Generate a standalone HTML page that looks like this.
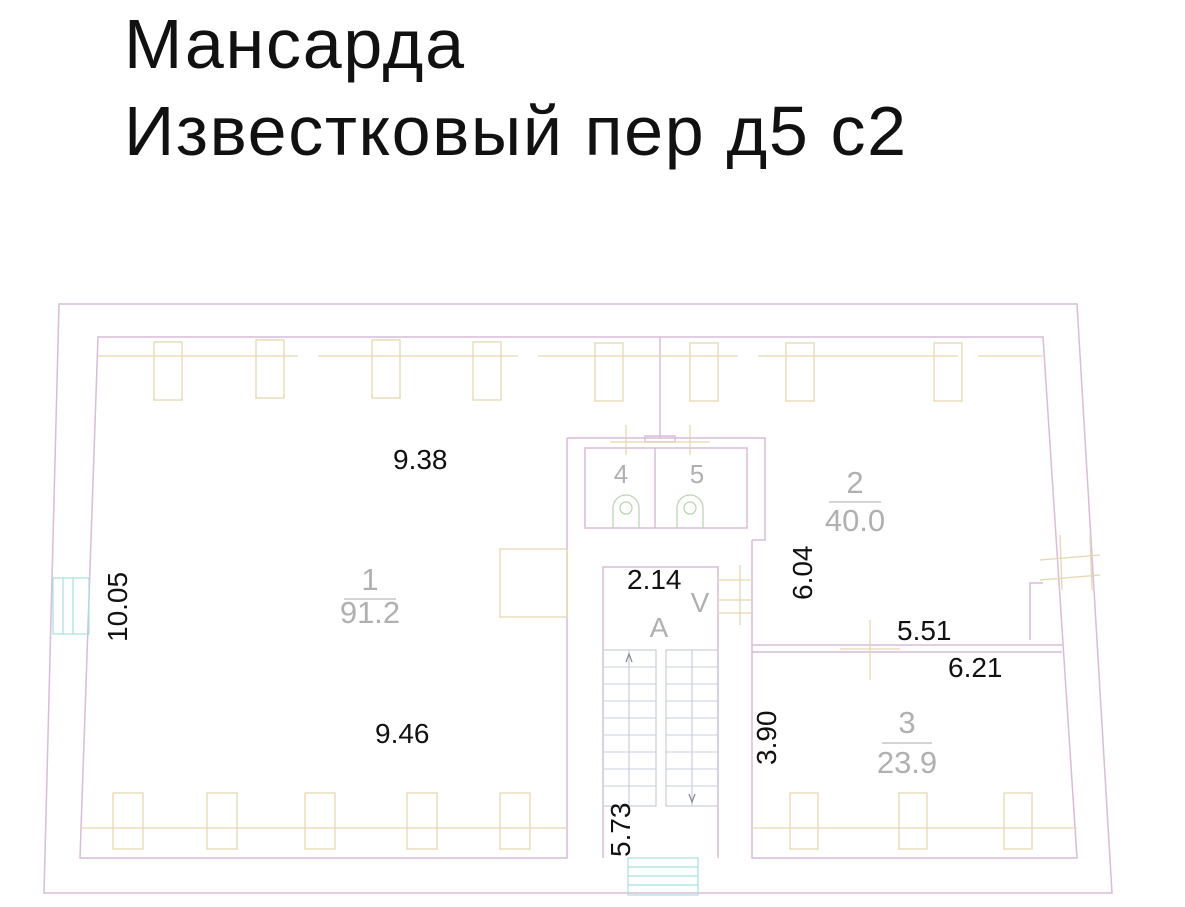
<!DOCTYPE html>
<html><head><meta charset="utf-8"><style>
html,body{margin:0;padding:0;background:#fff;}
svg{display:block}
text{font-family:"Liberation Sans",sans-serif;}
</style></head><body>
<svg width="1185" height="907" viewBox="0 0 1185 907" xmlns="http://www.w3.org/2000/svg">
<rect width="1185" height="907" fill="#fff"/>
<text x="124" y="68" font-size="70" fill="#111" textLength="340">Мансарда</text>
<text x="124" y="155" font-size="70" fill="#111" textLength="782">Известковый пер д5 с2</text>

<g fill="none" stroke="#d8bcd8" stroke-width="1.5">
<polygon points="59,304 1077,304 1112,893 44,893"/>
<polyline points="567,438 567,858 80,858 98,337 1043,337 1077,858 752,858 752,540"/>
<polyline points="567,438 765,438 765,540 752,540"/>
<rect x="585" y="448" width="162" height="80"/>
<polyline points="603,858 603,567 718,567 718,858"/>
<line x1="752" y1="645" x2="1062" y2="645"/>
<line x1="752" y1="652" x2="1062" y2="652"/>
<polyline points="1030,640 1030,583 1043,583"/>
<line x1="655" y1="448" x2="655" y2="528"/>
<line x1="660" y1="337" x2="660" y2="438"/>
<rect x="645" y="436" width="30" height="6"/>
</g>

<g fill="none" stroke="#e6d6b0" stroke-width="1.3">
<line x1="98" y1="356" x2="1043" y2="356" stroke-dasharray="200 20"/>
<rect x="154" y="342" width="28" height="58"/>
<rect x="256" y="340" width="28" height="58"/>
<rect x="372" y="340" width="28" height="58"/>
<rect x="473" y="342" width="28" height="58"/>
<rect x="595" y="343" width="28" height="58"/>
<rect x="690" y="343" width="28" height="58"/>
<rect x="786" y="343" width="28" height="58"/>
<rect x="934" y="343" width="28" height="58"/>
<line x1="80" y1="828" x2="567" y2="828"/>
<rect x="113" y="793" width="30" height="56"/>
<rect x="207" y="793" width="30" height="56"/>
<rect x="305" y="793" width="30" height="56"/>
<rect x="407" y="793" width="30" height="56"/>
<rect x="500" y="793" width="30" height="56"/>
<line x1="752" y1="828" x2="1077" y2="828"/>
<rect x="790" y="793" width="28" height="56"/>
<rect x="899" y="793" width="28" height="56"/>
<rect x="1004" y="793" width="28" height="56"/>
<rect x="500" y="549" width="67" height="68"/>
<line x1="718" y1="580" x2="752" y2="580"/>
<line x1="718" y1="600" x2="752" y2="600"/>
<line x1="718" y1="613" x2="752" y2="613"/>
<line x1="740" y1="565" x2="740" y2="625"/>
<line x1="870" y1="620" x2="870" y2="680"/>
<line x1="840" y1="649" x2="900" y2="649"/>
<line x1="1040" y1="560" x2="1100" y2="555"/>
<line x1="1040" y1="580" x2="1100" y2="575"/>
<line x1="1060" y1="535" x2="1062" y2="590"/>
<line x1="1090" y1="535" x2="1092" y2="590"/>
<line x1="626" y1="425" x2="626" y2="455"/>
<line x1="690" y1="425" x2="690" y2="455"/>
<line x1="610" y1="442" x2="710" y2="442"/>
</g>

<g fill="none" stroke="#b8d8b0" stroke-width="1.3">
<path d="M613,528 v-20 a13,13 0 0 1 26,0 v20"/>
<circle cx="626" cy="508" r="6"/>
<path d="M677,528 v-20 a13,13 0 0 1 26,0 v20"/>
<circle cx="690" cy="508" r="6"/>
</g>

<g fill="none" stroke="#c8cce0" stroke-width="1.2">
<rect x="603" y="650" width="53" height="156"/>
<rect x="666" y="650" width="52" height="156"/>
<line x1="629" y1="650" x2="629" y2="806"/>
<line x1="692" y1="650" x2="692" y2="806"/>
<g stroke-width="1">
<path d="M603,667H656M603,684H656M603,701H656M603,718H656M603,735H656M603,752H656M603,769H656M603,786H656"/>
<path d="M666,667H718M666,684H718M666,701H718M666,718H718M666,735H718M666,752H718M666,769H718M666,786H718"/>
</g>
<path d="M626,662 L629,654 L632,662 M689,794 L692,802 L695,794" stroke="#888"/>
</g>

<g fill="none" stroke="#a8e0e0" stroke-width="1.2">
<rect x="628" y="858" width="70" height="37"/>
<line x1="628" y1="867" x2="698" y2="867"/><line x1="628" y1="876" x2="698" y2="876"/><line x1="628" y1="885" x2="698" y2="885"/>
<rect x="53" y="578" width="36" height="56"/>
<line x1="63" y1="578" x2="63" y2="634"/><line x1="73" y1="578" x2="73" y2="634"/>
</g>

<g fill="#b0b0b0" font-size="31" text-anchor="middle">
<text x="370" y="590">1</text><text x="370" y="623">91.2</text>
<line x1="344" y1="599" x2="396" y2="599" stroke="#aaa"/>
<text x="855" y="493">2</text><text x="855" y="531">40.0</text>
<line x1="829" y1="502" x2="881" y2="502" stroke="#aaa"/>
<text x="907" y="733">3</text><text x="907" y="773">23.9</text>
<line x1="882" y1="743" x2="932" y2="743" stroke="#aaa"/>
<text x="621" y="483" font-size="26">4</text>
<text x="697" y="483" font-size="26">5</text>
<text x="659" y="637" font-size="28">A</text>
<text x="700" y="612" font-size="28">V</text>
</g>

<g fill="#111" font-size="28">
<text x="393" y="469">9.38</text>
<text x="375" y="743">9.46</text>
<text x="627" y="589">2.14</text>
<text x="897" y="640">5.51</text>
<text x="948" y="677">6.21</text>
<text transform="translate(127,642) rotate(-90)">10.05</text>
<text transform="translate(812,600) rotate(-90)">6.04</text>
<text transform="translate(776,765) rotate(-90)">3.90</text>
<text transform="translate(630,857) rotate(-90)">5.73</text>
</g>
</svg>
</body></html>
